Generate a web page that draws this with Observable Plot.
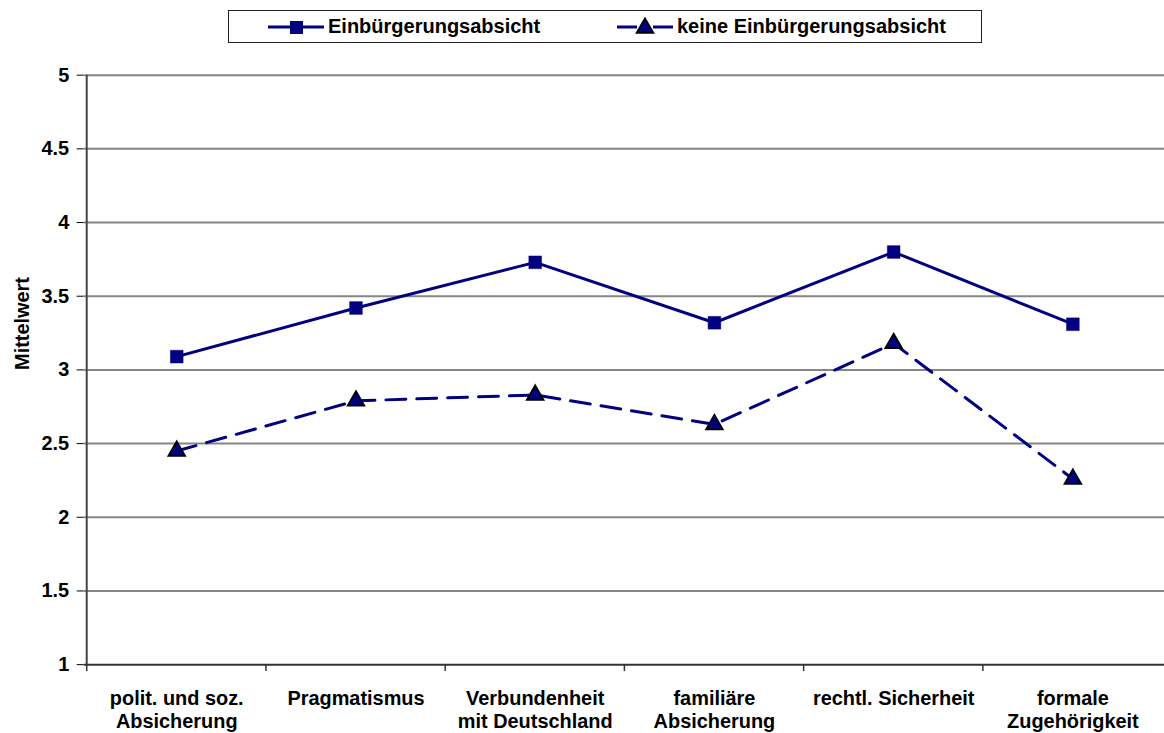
<!DOCTYPE html>
<html><head><meta charset="utf-8">
<script src="https://cdn.jsdelivr.net/npm/d3@7"></script>
<script src="https://cdn.jsdelivr.net/npm/@observablehq/plot@0.6"></script>
<style>
html,body{margin:0;padding:0;overflow:hidden;background:#fff;width:1164px;height:733px;position:relative}
#chart{position:absolute;left:0;top:0}
#legend{position:absolute;left:228px;top:10px;width:754px;height:33px;box-sizing:border-box;border:1px solid #222;background:#fff;font:bold 20px "Liberation Sans",Arial,sans-serif;color:#000}
.item{position:absolute;top:0;height:31px;display:flex;align-items:center;white-space:nowrap}
.item svg{margin-right:4px}
</style></head>
<body>
<div id="chart"></div>
<div id="legend"></div>
<script>
const categories = [
  "polit. und soz.\nAbsicherung",
  "Pragmatismus",
  "Verbundenheit\nmit Deutschland",
  "familiäre\nAbsicherung",
  "rechtl. Sicherheit",
  "formale\nZugehörigkeit"
];
const seriesNames = ["Einbürgerungsabsicht", "keine Einbürgerungsabsicht"];
const withIntent    = [3.09, 3.42, 3.73, 3.32, 3.80, 3.31];
const withoutIntent = [2.45, 2.79, 2.83, 2.63, 3.18, 2.26];
const yTicks = [1, 1.5, 2, 2.5, 3, 3.5, 4, 4.5, 5];
const yTitle = "Mittelwert";

const NAVY = "#000080";
const FONT = '"Liberation Sans", Arial, sans-serif';
const W = 1169, ML = 84, MR = 0;
const step = (W - ML - MR) / categories.length;

const rows1 = categories.map((c, i) => ({cat: c, value: withIntent[i], series: seriesNames[0]}));
const rows2 = categories.map((c, i) => ({cat: c, value: withoutIntent[i], series: seriesNames[1]}));

const chart = Plot.plot({
  width: W,
  height: 733,
  marginLeft: ML,
  marginRight: MR,
  marginTop: 75,
  marginBottom: 66,
  style: {fontFamily: FONT, fontSize: "20px", fontWeight: "bold", color: "#000", background: "#fff", overflow: "visible"},
  x: {type: "point", domain: categories, padding: 0.5, align: 0.5, axis: null},
  y: {domain: [1, 5], ticks: yTicks, tickSize: 7, tickPadding: 8, tickFormat: d => String(d), label: null},
  marks: [
    Plot.ruleY(yTicks.filter(t => t > 1), {stroke: "#868686", strokeWidth: 2}),
    Plot.ruleY([yTicks[0]], {stroke: "#333", strokeWidth: 2}),
    Plot.ruleX([categories[0]], {dx: -step / 2, stroke: "#444", strokeWidth: 2}),
    Plot.ruleX(categories, {x: d => d, dx: -step / 2, y1: yTicks[0], y2: yTicks[0] - 7 / 148, stroke: "#333", strokeWidth: 1.5}),
    Plot.text(categories, {x: d => d, frameAnchor: "bottom", text: d => d, lineAnchor: "top", dy: 24, lineHeight: 1.15, fontSize: 20, fontWeight: "bold", fill: "#000"}),
    Plot.text([yTitle], {frameAnchor: "left", text: d => d, rotate: -90, dx: -62, fontSize: 20, fontWeight: "bold", fill: "#000"}),
    Plot.line(rows1, {x: "cat", y: "value", stroke: NAVY, strokeWidth: 3}),
    Plot.line(rows2, {x: "cat", y: "value", stroke: NAVY, strokeWidth: 3, strokeDasharray: "20,11"}),
    Plot.dot(rows1, {x: "cat", y: "value", symbol: "square", r: 7.2, fill: NAVY, stroke: NAVY, strokeWidth: 0.5}),
    Plot.dot(rows2, {x: "cat", y: "value", symbol: "triangle", r: 6.2, fill: NAVY, stroke: "#000", strokeWidth: 1.8})
  ]
});
document.getElementById("chart").appendChild(chart);

// Legend (HTML above the plot area)
const legend = document.getElementById("legend");
const items = [
  {left: 39, name: seriesNames[0], kind: "square"},
  {left: 388, name: seriesNames[1], kind: "triangle"}
];
for (const it of items) {
  const div = document.createElement("div");
  div.className = "item";
  div.style.left = it.left + "px";
  const sw = d3.create("svg").attr("width", 56).attr("height", 20);
  if (it.kind === "square") {
    sw.append("line").attr("x1", 0).attr("x2", 56).attr("y1", 10).attr("y2", 10).attr("stroke", NAVY).attr("stroke-width", 3);
    sw.append("rect").attr("x", 22).attr("y", 4).attr("width", 13).attr("height", 13).attr("fill", NAVY);
  } else {
    sw.append("line").attr("x1", 0).attr("x2", 20).attr("y1", 10).attr("y2", 10).attr("stroke", NAVY).attr("stroke-width", 3);
    sw.append("line").attr("x1", 36).attr("x2", 56).attr("y1", 10).attr("y2", 10).attr("stroke", NAVY).attr("stroke-width", 3);
    sw.append("path").attr("d", d3.symbol(d3.symbolTriangle, Math.PI * 6.2 * 6.2)()).attr("transform", "translate(28,11)")
      .attr("fill", NAVY).attr("stroke", "#000").attr("stroke-width", 1.8);
  }
  div.appendChild(sw.node());
  const span = document.createElement("span");
  span.textContent = it.name;
  div.appendChild(span);
  legend.appendChild(div);
}
</script>
</body></html>
